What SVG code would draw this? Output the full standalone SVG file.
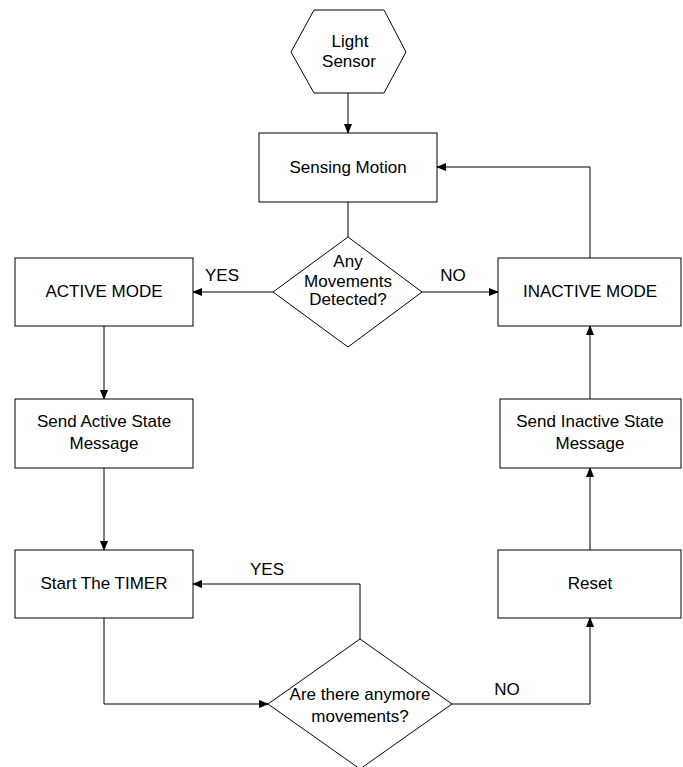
<svg xmlns="http://www.w3.org/2000/svg" width="683" height="767" viewBox="0 0 683 767">
<style>
.shape{fill:#fff;stroke:#000;stroke-width:1}
.line{fill:none;stroke:#000;stroke-width:1}
text{font-family:"Liberation Sans",Arial,sans-serif;font-size:17px;fill:#000;text-anchor:middle}
</style>
<defs>
<marker id="arr" markerWidth="10" markerHeight="8" refX="9" refY="4" orient="auto" markerUnits="userSpaceOnUse">
<path d="M0,0 L10,4 L0,8 Z" fill="#000"/>
</marker>
</defs>
<rect width="683" height="767" fill="#fff"/>
<g id="connectors">
<line class="line" x1="348" y1="93" x2="348" y2="133" marker-end="url(#arr)"/>
<line class="line" x1="348" y1="202" x2="348" y2="237"/>
<line class="line" x1="273" y1="292" x2="193" y2="292" marker-end="url(#arr)"/>
<line class="line" x1="422" y1="292" x2="498" y2="292" marker-end="url(#arr)"/>
<polyline class="line" points="590,258 590,167 437,167" marker-end="url(#arr)"/>
<line class="line" x1="104" y1="326" x2="104" y2="399" marker-end="url(#arr)"/>
<line class="line" x1="104" y1="468" x2="104" y2="550" marker-end="url(#arr)"/>
<line class="line" x1="590" y1="550" x2="590" y2="468" marker-end="url(#arr)"/>
<line class="line" x1="590" y1="399" x2="590" y2="326" marker-end="url(#arr)"/>
<polyline class="line" points="104,618 104,704 268,704" marker-end="url(#arr)"/>
<polyline class="line" points="360,639 360,584 193,584" marker-end="url(#arr)"/>
<polyline class="line" points="452,704 590,704 590,618" marker-end="url(#arr)"/>
<text x="222" y="281">YES</text>
<text x="453" y="281">NO</text>
<text x="267" y="575">YES</text>
<text x="507" y="695">NO</text>
</g>
<g id="light-sensor">
<polygon class="shape" points="291,52 314,10 384,10 406,52 384,93 314,93"/>
<text x="350" y="47">Light</text>
<text x="349" y="67">Sensor</text>
</g>
<g id="sensing-motion">
<rect class="shape" x="259" y="133" width="178" height="69"/>
<text x="348" y="173">Sensing Motion</text>
</g>
<g id="any-movements">
<polygon class="shape" points="348,237 422,292 348,347 273,292"/>
<text x="348" y="267">Any</text>
<text x="348" y="287">Movements</text>
<text x="348" y="305">Detected?</text>
</g>
<g id="active-mode">
<rect class="shape" x="15" y="258" width="178" height="68"/>
<text x="104" y="297">ACTIVE MODE</text>
</g>
<g id="inactive-mode">
<rect class="shape" x="498" y="258" width="183" height="68"/>
<text x="590" y="297">INACTIVE MODE</text>
</g>
<g id="send-active">
<rect class="shape" x="15" y="399" width="178" height="69"/>
<text x="104" y="427">Send Active State</text>
<text x="104" y="449">Message</text>
</g>
<g id="send-inactive">
<rect class="shape" x="500" y="399" width="181" height="69"/>
<text x="590" y="427">Send Inactive State</text>
<text x="590" y="449">Message</text>
</g>
<g id="start-timer">
<rect class="shape" x="15" y="550" width="178" height="68"/>
<text x="104" y="589">Start The TIMER</text>
</g>
<g id="reset">
<rect class="shape" x="498" y="550" width="183" height="68"/>
<text x="590" y="589">Reset</text>
</g>
<g id="anymore-movements">
<polygon class="shape" points="360,639 452,704 360,769 268,704"/>
<text x="360" y="700">Are there anymore</text>
<text x="360" y="722">movements?</text>
</g>
</svg>
